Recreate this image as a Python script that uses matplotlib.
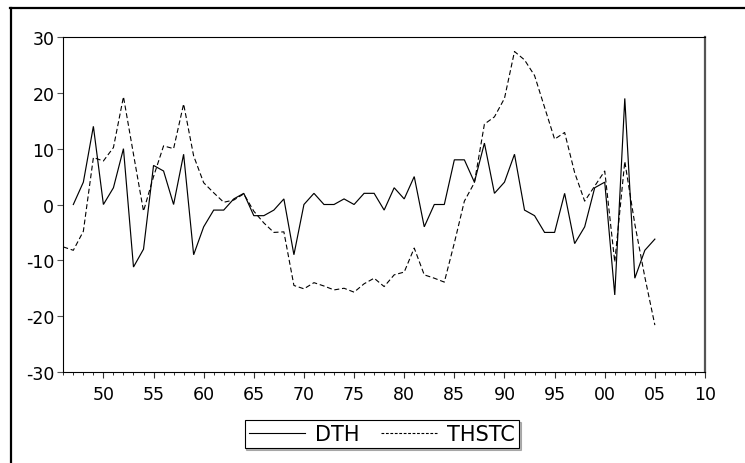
import matplotlib
matplotlib.use("Agg")
import matplotlib.pyplot as plt
from matplotlib.lines import Line2D
from matplotlib.ticker import FixedLocator, MultipleLocator
import numpy as np

# ---------------- data ----------------
dth_years = list(range(1947, 2006))
dth_values = [0, 4, 14, 0, 3, 10, -11.2, -8, 7, 6,
              0, 9, -9, -4, -1, -1, 1, 2, -2, -2,
              -1, 1, -9, 0, 2, 0, 0, 1, 0, 2,
              2, -1, 3, 1, 5, -4, 0, 0, 8, 8,
              4, 11, 2, 4, 9, -1, -2, -5, -5, 2,
              -7, -4, 3, 4, -16.2, 19, -13.2, -8.2, -6.2]

thstc_years = list(range(1946, 2006))
thstc_values = [-7.6, -8.2, -4.8, 8.4, 7.8, 10.2, 19.3, 9.0, -1.2, 5.0,
                10.5, 10.0, 18.0, 8.7, 3.9, 2.1, 0.4, 0.8, 1.9, -1.2,
                -3.3, -5.0, -4.9, -14.5, -15.1, -14.0, -14.6, -15.3, -15.0, -15.7,
                -14.2, -13.2, -14.7, -12.6, -12.1, -7.8, -12.6, -13.2, -13.9, -6.9,
                0.6, 3.9, 14.4, 15.7, 19.0, 27.4, 25.9, 23.1, 17.4, 11.7,
                12.9, 5.7, 0.6, 3.3, 6.0, -10.3, 7.7, -3.5, -13.0, -21.6]

x_tick_years = [1950, 1955, 1960, 1965, 1970, 1975, 1980, 1985, 1990, 1995, 2000, 2005, 2010]
x_tick_labels = ["50", "55", "60", "65", "70", "75", "80", "85", "90", "95", "00", "05", "10"]
y_ticks = [-30, -20, -10, 0, 10, 20, 30]
series_names = ["DTH", "THSTC"]

# ---------------- figure ----------------
plt.rcParams['font.family'] = ['DejaVu Sans']
W, H = 745, 464
fig = plt.figure(figsize=(W / 100, H / 100), dpi=100)
fig.patch.set_facecolor("white")

left, right, top, bottom = 63.3, 705.0, 38.0, 373.0
ax = fig.add_axes([left / W, 1 - bottom / H, (right - left) / W, (bottom - top) / H])

ax.plot(dth_years, dth_values, color="black", lw=0.85, solid_joinstyle="miter")
ax.plot(thstc_years, thstc_values, color="black", lw=0.8, dashes=(4.5, 2.5))

ax.set_xlim(1946, 2010)
ax.set_ylim(-30, 30)

ax.xaxis.set_major_locator(FixedLocator(x_tick_years))
ax.set_xticklabels(x_tick_labels)
ax.xaxis.set_minor_locator(MultipleLocator(1))
ax.set_yticks(y_ticks)
ax.set_yticklabels([str(v) for v in y_ticks])

ax.tick_params(axis="x", which="major", direction="out", length=4, width=0.8,
               color="#333333", labelsize=12.5, pad=5, top=False)
ax.tick_params(axis="x", which="minor", direction="out", length=2.3, width=0.7,
               color="#333333", top=False)
ax.tick_params(axis="y", which="major", direction="out", length=4, width=0.8,
               color="#555555", labelsize=12.5, pad=2.5, right=False)

for s in ["left", "top", "bottom"]:
    ax.spines[s].set_color("black")
    ax.spines[s].set_linewidth(0.8)
ax.spines["right"].set_color("#555555")
ax.spines["right"].set_linewidth(1.6)

# outer frame (top and left)
fig.add_artist(Line2D([10 / W, 1.0], [1 - 9 / H, 1 - 9 / H], transform=fig.transFigure,
                      color="black", lw=1.6))
fig.add_artist(Line2D([11 / W, 11 / W], [0.0, 1 - 9 / H], transform=fig.transFigure,
                      color="black", lw=1.6))

# legend
handles = [Line2D([], [], color="black", lw=0.8),
           Line2D([], [], color="black", lw=0.8, dashes=(2.5, 1.5))]
leg = fig.legend(handles, series_names, loc="center",
                 bbox_to_anchor=(382 / W, 1 - 435 / H), ncol=2,
                 frameon=True, fancybox=False, edgecolor="black", framealpha=1,
                 fontsize=15, handlelength=2.7, handletextpad=0.5,
                 columnspacing=1.0, borderpad=0.2, borderaxespad=0,
                 shadow={"color": "0.45", "ox": 1.2, "oy": -1.2})
leg.get_frame().set_linewidth(0.8)

fig.savefig("out.png", dpi=100, facecolor="white")
